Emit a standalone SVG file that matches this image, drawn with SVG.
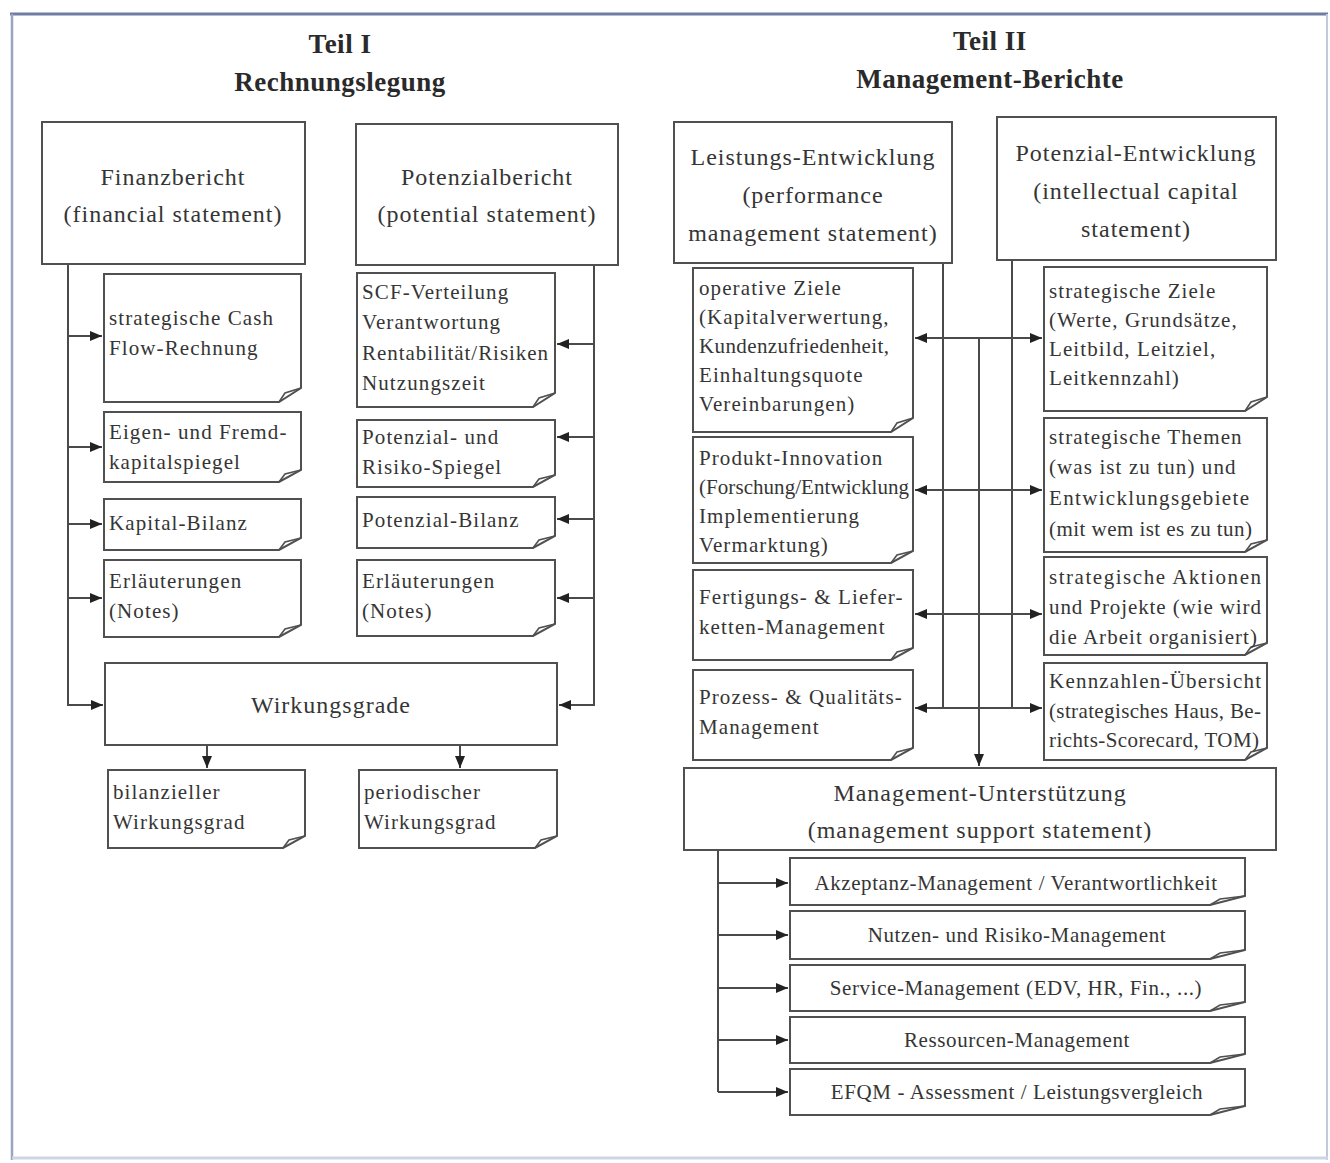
<svg xmlns="http://www.w3.org/2000/svg" width="1330" height="1163" viewBox="0 0 1330 1163">
  <style>
    .box { fill: #fff; stroke: #505050; stroke-width: 2; }
    .fold { fill: none; stroke: #505050; stroke-width: 1.6; }
    .conn { fill: none; stroke: #4a4a4a; stroke-width: 2; }
    .arr { marker-end: url(#ah); }
    text { font-family: "Liberation Serif", "Times New Roman", serif; fill: #353535; }
    .head { font-size: 27px; font-weight: bold; text-anchor: middle; letter-spacing: 0.5px; fill: #2a2a2a; }
    .title { font-size: 24px; text-anchor: middle; letter-spacing: 1px; }
    .doc { font-size: 21px; letter-spacing: 1.1px; }
    .tight { letter-spacing: 0; }
    .item { font-size: 21px; text-anchor: middle; letter-spacing: 0.6px; }
  </style>
  <defs>
    <marker id="ah" viewBox="0 0 12 10" refX="12" refY="5" markerWidth="12" markerHeight="10" markerUnits="userSpaceOnUse" orient="auto">
      <path d="M0,0 L12,5 L0,10 Z" fill="#222"/>
    </marker>
  </defs>

  <rect width="1330" height="1163" fill="#fff"/>
  <!-- frame -->
  <g id="frame" fill="none">
    <line x1="10" y1="14" x2="1328" y2="14" stroke="#6f7ca3" stroke-width="3"/>
    <line x1="12" y1="14" x2="12" y2="1160" stroke="#9aa4c4" stroke-width="2.5"/>
    <line x1="1327" y1="14" x2="1327" y2="1160" stroke="#c3c9dc" stroke-width="2"/>
    <line x1="12" y1="1158" x2="1328" y2="1158" stroke="#cdd5e4" stroke-width="3"/>
  </g>

  <!-- headings -->
  <g id="heading-teil1">
    <text class="head" x="340" y="53">Teil I</text>
    <text class="head" x="340" y="91">Rechnungslegung</text>
  </g>
  <g id="heading-teil2">
    <text class="head" x="990" y="50">Teil II</text>
    <text class="head" x="990" y="88">Management-Berichte</text>
  </g>

  <!-- connectors -->
  <g id="connectors">
    <path class="conn arr" d="M68,264 V705 H103"/>
    <path class="conn arr" d="M68,336 H102"/>
    <path class="conn arr" d="M68,447 H102"/>
    <path class="conn arr" d="M68,524 H102"/>
    <path class="conn arr" d="M68,598 H102"/>
    <path class="conn arr" d="M594,265 V705 H559"/>
    <path class="conn arr" d="M594,344 H557"/>
    <path class="conn arr" d="M594,437 H557"/>
    <path class="conn arr" d="M594,519 H557"/>
    <path class="conn arr" d="M594,598 H557"/>
    <path class="conn arr" d="M207,745 V768"/>
    <path class="conn arr" d="M460,745 V768"/>

    <path class="conn" d="M943,263 V708"/>
    <path class="conn" d="M1012,260 V708"/>
    <path class="conn arr" d="M979,338 V766"/>
    <path class="conn arr" d="M1012,338 H915"/>
    <path class="conn arr" d="M943,338 H1042"/>
    <path class="conn arr" d="M1012,490 H915"/>
    <path class="conn arr" d="M943,490 H1042"/>
    <path class="conn arr" d="M1012,614 H915"/>
    <path class="conn arr" d="M943,614 H1042"/>
    <path class="conn arr" d="M1012,708 H915"/>
    <path class="conn arr" d="M943,708 H1042"/>

    <path class="conn" d="M718,850 V1092"/>
    <path class="conn arr" d="M718,883 H788"/>
    <path class="conn arr" d="M718,935 H788"/>
    <path class="conn arr" d="M718,988 H788"/>
    <path class="conn arr" d="M718,1040 H788"/>
    <path class="conn arr" d="M718,1092 H788"/>
  </g>

  <!-- Teil I -->
  <g id="finanzbericht">
    <rect class="box" x="42" y="122" width="263" height="142"/>
    <text class="title" x="173" y="185">Finanzbericht</text>
    <text class="title" x="173" y="222">(financial statement)</text>
  </g>
  <g id="potenzialbericht">
    <rect class="box" x="356" y="124" width="262" height="141"/>
    <text class="title" x="487" y="185">Potenzialbericht</text>
    <text class="title" x="487" y="222">(potential statement)</text>
  </g>

  <g id="cash-flow">
    <path class="box" d="M104,274 H301 V388 L279,402 H104 Z"/>
    <path class="fold" d="M301,388 L285,393 L279,402"/>
    <text class="doc" x="109" y="325">strategische Cash</text>
    <text class="doc" x="109" y="355">Flow-Rechnung</text>
  </g>
  <g id="kapitalspiegel">
    <path class="box" d="M104,412 H301 V470 L279,482 H104 Z"/>
    <path class="fold" d="M301,470 L285,474 L279,482"/>
    <text class="doc" x="109" y="439">Eigen- und Fremd-</text>
    <text class="doc" x="109" y="469">kapitalspiegel</text>
  </g>
  <g id="kapital-bilanz">
    <path class="box" d="M104,499 H301 V538 L279,550 H104 Z"/>
    <path class="fold" d="M301,538 L285,542 L279,550"/>
    <text class="doc" x="109" y="530">Kapital-Bilanz</text>
  </g>
  <g id="notes-finanz">
    <path class="box" d="M104,560 H301 V625 L279,637 H104 Z"/>
    <path class="fold" d="M301,625 L285,629 L279,637"/>
    <text class="doc" x="109" y="588">Erläuterungen</text>
    <text class="doc" x="109" y="618">(Notes)</text>
  </g>

  <g id="scf-verteilung">
    <path class="box" d="M357,273 H555 V393 L533,407 H357 Z"/>
    <path class="fold" d="M555,393 L539,398 L533,407"/>
    <text class="doc" x="362" y="299">SCF-Verteilung</text>
    <text class="doc" x="362" y="329">Verantwortung</text>
    <text class="doc tight" x="362" y="360" textLength="186" lengthAdjust="spacing">Rentabilität/Risiken</text>
    <text class="doc" x="362" y="390">Nutzungszeit</text>
  </g>
  <g id="risiko-spiegel">
    <path class="box" d="M357,420 H555 V475 L533,487 H357 Z"/>
    <path class="fold" d="M555,475 L539,479 L533,487"/>
    <text class="doc" x="362" y="444">Potenzial- und</text>
    <text class="doc" x="362" y="474">Risiko-Spiegel</text>
  </g>
  <g id="potenzial-bilanz">
    <path class="box" d="M357,497 H555 V536 L533,548 H357 Z"/>
    <path class="fold" d="M555,536 L539,540 L533,548"/>
    <text class="doc" x="362" y="527">Potenzial-Bilanz</text>
  </g>
  <g id="notes-potenzial">
    <path class="box" d="M357,560 H555 V624 L533,636 H357 Z"/>
    <path class="fold" d="M555,624 L539,628 L533,636"/>
    <text class="doc" x="362" y="588">Erläuterungen</text>
    <text class="doc" x="362" y="618">(Notes)</text>
  </g>

  <g id="wirkungsgrade">
    <rect class="box" x="105" y="663" width="452" height="82"/>
    <text class="title" x="331" y="713">Wirkungsgrade</text>
  </g>
  <g id="bilanzieller">
    <path class="box" d="M108,770 H305 V836 L283,848 H108 Z"/>
    <path class="fold" d="M305,836 L289,840 L283,848"/>
    <text class="doc" x="113" y="799">bilanzieller</text>
    <text class="doc" x="113" y="829">Wirkungsgrad</text>
  </g>
  <g id="periodischer">
    <path class="box" d="M359,770 H557 V836 L535,848 H359 Z"/>
    <path class="fold" d="M557,836 L541,840 L535,848"/>
    <text class="doc" x="364" y="799">periodischer</text>
    <text class="doc" x="364" y="829">Wirkungsgrad</text>
  </g>

  <!-- Teil II -->
  <g id="leistungs-entwicklung">
    <rect class="box" x="674" y="122" width="278" height="141"/>
    <text class="title" x="813" y="165">Leistungs-Entwicklung</text>
    <text class="title" x="813" y="203">(performance</text>
    <text class="title" x="813" y="241">management statement)</text>
  </g>
  <g id="potenzial-entwicklung">
    <rect class="box" x="997" y="117" width="279" height="143"/>
    <text class="title" x="1136" y="161">Potenzial-Entwicklung</text>
    <text class="title" x="1136" y="199">(intellectual capital</text>
    <text class="title" x="1136" y="237">statement)</text>
  </g>

  <g id="operative-ziele">
    <path class="box" d="M693,268 H913 V418 L891,432 H693 Z"/>
    <path class="fold" d="M913,418 L897,423 L891,432"/>
    <text class="doc" x="699" y="295">operative Ziele</text>
    <text class="doc" x="699" y="324">(Kapitalverwertung,</text>
    <text class="doc tight" x="699" y="353" textLength="190" lengthAdjust="spacing">Kundenzufriedenheit,</text>
    <text class="doc" x="699" y="382">Einhaltungsquote</text>
    <text class="doc" x="699" y="411">Vereinbarungen)</text>
  </g>
  <g id="produkt-innovation">
    <path class="box" d="M693,437 H913 V551 L891,563 H693 Z"/>
    <path class="fold" d="M913,551 L897,555 L891,563"/>
    <text class="doc" x="699" y="465">Produkt-Innovation</text>
    <text class="doc tight" x="699" y="494" textLength="210" lengthAdjust="spacing">(Forschung/Entwicklung</text>
    <text class="doc" x="699" y="523">Implementierung</text>
    <text class="doc" x="699" y="552">Vermarktung)</text>
  </g>
  <g id="fertigung">
    <path class="box" d="M693,570 H913 V648 L891,660 H693 Z"/>
    <path class="fold" d="M913,648 L897,652 L891,660"/>
    <text class="doc" x="699" y="604">Fertigungs- &amp; Liefer-</text>
    <text class="doc" x="699" y="634">ketten-Management</text>
  </g>
  <g id="prozess">
    <path class="box" d="M693,670 H913 V748 L891,760 H693 Z"/>
    <path class="fold" d="M913,748 L897,752 L891,760"/>
    <text class="doc" x="699" y="704">Prozess- &amp; Qualitäts-</text>
    <text class="doc" x="699" y="734">Management</text>
  </g>

  <g id="strategische-ziele">
    <path class="box" d="M1044,267 H1267 V397 L1245,411 H1044 Z"/>
    <path class="fold" d="M1267,397 L1251,402 L1245,411"/>
    <text class="doc" x="1049" y="298">strategische Ziele</text>
    <text class="doc" x="1049" y="327">(Werte, Grundsätze,</text>
    <text class="doc" x="1049" y="356">Leitbild, Leitziel,</text>
    <text class="doc" x="1049" y="385">Leitkennzahl)</text>
  </g>
  <g id="strategische-themen">
    <path class="box" d="M1044,418 H1267 V540 L1245,552 H1044 Z"/>
    <path class="fold" d="M1267,540 L1251,544 L1245,552"/>
    <text class="doc" x="1049" y="444">strategische Themen</text>
    <text class="doc" x="1049" y="474">(was ist zu tun) und</text>
    <text class="doc tight" x="1049" y="505" textLength="200" lengthAdjust="spacing">Entwicklungsgebiete</text>
    <text class="doc tight" x="1049" y="536" textLength="203" lengthAdjust="spacing">(mit wem ist es zu tun)</text>
  </g>
  <g id="strategische-aktionen">
    <path class="box" d="M1044,557 H1267 V643 L1245,655 H1044 Z"/>
    <path class="fold" d="M1267,643 L1251,647 L1245,655"/>
    <text class="doc tight" x="1049" y="584" textLength="212" lengthAdjust="spacing">strategische Aktionen</text>
    <text class="doc tight" x="1049" y="614" textLength="212" lengthAdjust="spacing">und Projekte (wie wird</text>
    <text class="doc tight" x="1049" y="644" textLength="208" lengthAdjust="spacing">die Arbeit organisiert)</text>
  </g>
  <g id="kennzahlen">
    <path class="box" d="M1044,663 H1267 V748 L1245,760 H1044 Z"/>
    <path class="fold" d="M1267,748 L1251,752 L1245,760"/>
    <text class="doc tight" x="1049" y="688" textLength="212" lengthAdjust="spacing">Kennzahlen-Übersicht</text>
    <text class="doc tight" x="1049" y="718" textLength="212" lengthAdjust="spacing">(strategisches Haus, Be-</text>
    <text class="doc tight" x="1049" y="747" textLength="210" lengthAdjust="spacing">richts-Scorecard, TOM)</text>
  </g>

  <g id="management-unterstuetzung">
    <rect class="box" x="684" y="768" width="592" height="82"/>
    <text class="title" x="980" y="801">Management-Unterstützung</text>
    <text class="title" x="980" y="838">(management support statement)</text>
  </g>

  <g id="akzeptanz">
    <path class="box" d="M790,858 H1245 V896 L1210,905 H790 Z"/>
    <path class="fold" d="M1245,896 L1220,899 L1210,905"/>
    <text class="item" x="1016" y="890">Akzeptanz-Management / Verantwortlichkeit</text>
  </g>
  <g id="nutzen-risiko">
    <path class="box" d="M790,911 H1245 V950 L1210,959 H790 Z"/>
    <path class="fold" d="M1245,950 L1220,953 L1210,959"/>
    <text class="item" x="1017" y="942">Nutzen- und Risiko-Management</text>
  </g>
  <g id="service">
    <path class="box" d="M790,965 H1245 V1002 L1210,1011 H790 Z"/>
    <path class="fold" d="M1245,1002 L1220,1005 L1210,1011"/>
    <text class="item" x="1016" y="995">Service-Management (EDV, HR, Fin., ...)</text>
  </g>
  <g id="ressourcen">
    <path class="box" d="M790,1017 H1245 V1054 L1210,1063 H790 Z"/>
    <path class="fold" d="M1245,1054 L1220,1057 L1210,1063"/>
    <text class="item" x="1017" y="1047">Ressourcen-Management</text>
  </g>
  <g id="efqm">
    <path class="box" d="M790,1069 H1245 V1106 L1210,1115 H790 Z"/>
    <path class="fold" d="M1245,1106 L1220,1109 L1210,1115"/>
    <text class="item" x="1017" y="1099">EFQM - Assessment / Leistungsvergleich</text>
  </g>
</svg>
